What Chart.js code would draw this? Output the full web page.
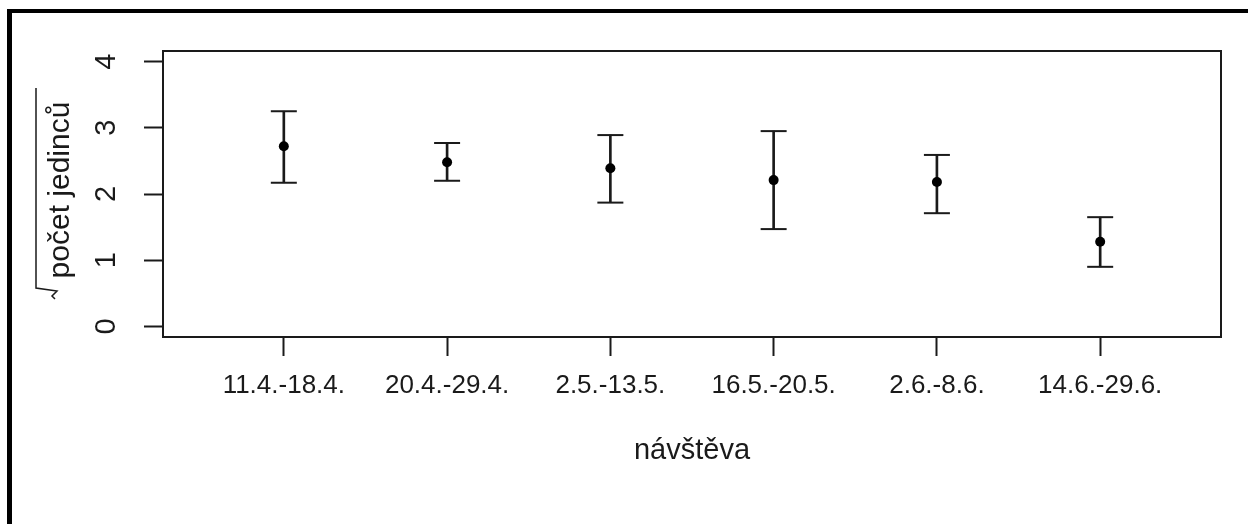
<!DOCTYPE html>
<html>
<head>
<meta charset="utf-8">
<script src="https://cdn.jsdelivr.net/npm/chart.js@4"></script>
<style>
    body { margin: 0; background: #fff; }
    #wrap { width: 1248px; height: 524px; position: relative; }
</style>
</head>
<body>
<div id="wrap"><canvas id="visitChart"></canvas></div>
<script>
// visits and sqrt-transformed counts (mean with interval)
const visits = ['11.4.-18.4.', '20.4.-29.4.', '2.5.-13.5.', '16.5.-20.5.', '2.6.-8.6.', '14.6.-29.6.'];
const means = [2.72, 2.48, 2.39, 2.21, 2.18, 1.28];
const upper = [3.25, 2.77, 2.89, 2.95, 2.59, 1.65];
const lower = [2.17, 2.20, 1.87, 1.47, 1.71, 0.90];

const FONT = '"Liberation Sans", Arial, sans-serif';
const INK = '#1a1a1a';

const pos = visits.map((v, i) => i + 1);

// box around the plot, rotated y labels, axis titles, page frame
const decorations = {
    id: 'decorations',
    afterDraw(chart) {
        const ctx = chart.ctx;
        const area = chart.chartArea;
        const y = chart.scales.y;
        ctx.save();

        // frame on the left and top edges of the page
        ctx.fillStyle = '#000';
        ctx.fillRect(7, 9, 5, 524 - 9);
        ctx.fillRect(7, 9, 1248 - 7, 4);

        // plot box
        ctx.strokeStyle = INK;
        ctx.lineWidth = 2;
        ctx.strokeRect(area.left, area.top, area.right - area.left, area.bottom - area.top);

        // y tick labels, rotated like the base graphics
        ctx.fillStyle = INK;
        ctx.font = '29px ' + FONT;
        ctx.textAlign = 'center';
        ctx.textBaseline = 'middle';
        y.ticks.forEach(t => {
            ctx.save();
            ctx.translate(107, y.getPixelForValue(t.value));
            ctx.rotate(-Math.PI / 2);
            ctx.fillText(String(t.value), 0, 0);
            ctx.restore();
        });

        // x axis title
        ctx.font = '29px ' + FONT;
        ctx.fillText('návštěva', (area.left + area.right) / 2, 451);

        // y axis title with a square root sign
        ctx.save();
        ctx.translate(61, 190);
        ctx.rotate(-Math.PI / 2);
        ctx.font = '30px ' + FONT;
        ctx.fillText('počet jedinců', 0, 0);
        ctx.restore();

        ctx.beginPath();
        ctx.lineWidth = 1.5;
        ctx.moveTo(36, 88);
        ctx.lineTo(36, 288);
        ctx.lineTo(57, 291);
        ctx.lineTo(52, 296);
        ctx.lineTo(55, 299);
        ctx.stroke();

        ctx.restore();
    }
};

new Chart(document.getElementById('visitChart'), {
    data: {
        datasets: [{
            type: 'scatter',
            data: pos.map((x, i) => ({ x: x, y: means[i] })),
            pointStyle: 'circle',
            pointRadius: 5,
            backgroundColor: '#000',
            borderColor: '#000',
            borderWidth: 0
        }, {
            type: 'scatter',
            data: pos.map((x, i) => ({ x: x, y: upper[i] })),
            pointStyle: 'line',
            pointRadius: 13,
            borderColor: INK,
            borderWidth: 2
        }, {
            type: 'scatter',
            data: pos.map((x, i) => ({ x: x, y: lower[i] })),
            pointStyle: 'line',
            pointRadius: 13,
            borderColor: INK,
            borderWidth: 2
        }, {
            type: 'bar',
            data: pos.map((x, i) => ({ x: x, y: [lower[i], upper[i]] })),
            backgroundColor: INK,
            barThickness: 2
        }]
    },
    options: {
        responsive: true,
        maintainAspectRatio: false,
        animation: false,
        layout: {
            padding: { top: 51, right: 27, left: 0, bottom: 0 }
        },
        plugins: {
            legend: { display: false },
            tooltip: { enabled: false }
        },
        scales: {
            x: {
                type: 'linear',
                min: 0.26,
                max: 6.74,
                offset: false,
                afterFit(scale) { scale.height = 187; },
                border: { display: false },
                grid: {
                    offset: false,
                    drawOnChartArea: false,
                    drawTicks: true,
                    tickLength: 19,
                    tickWidth: 2,
                    tickColor: INK
                },
                ticks: {
                    stepSize: 1,
                    includeBounds: false,
                    autoSkip: false,
                    maxRotation: 0,
                    padding: 14,
                    color: INK,
                    font: { family: FONT, size: 26 },
                    callback: v => visits[v - 1] || ''
                }
            },
            y: {
                type: 'linear',
                min: -0.16,
                max: 4.16,
                afterFit(scale) { scale.width = 163; },
                border: { display: false },
                grid: {
                    drawOnChartArea: false,
                    drawTicks: true,
                    tickLength: 19,
                    tickWidth: 2,
                    tickColor: INK
                },
                ticks: {
                    display: false,
                    stepSize: 1,
                    includeBounds: false
                }
            }
        }
    },
    plugins: [decorations]
});
</script>
</body>
</html>
